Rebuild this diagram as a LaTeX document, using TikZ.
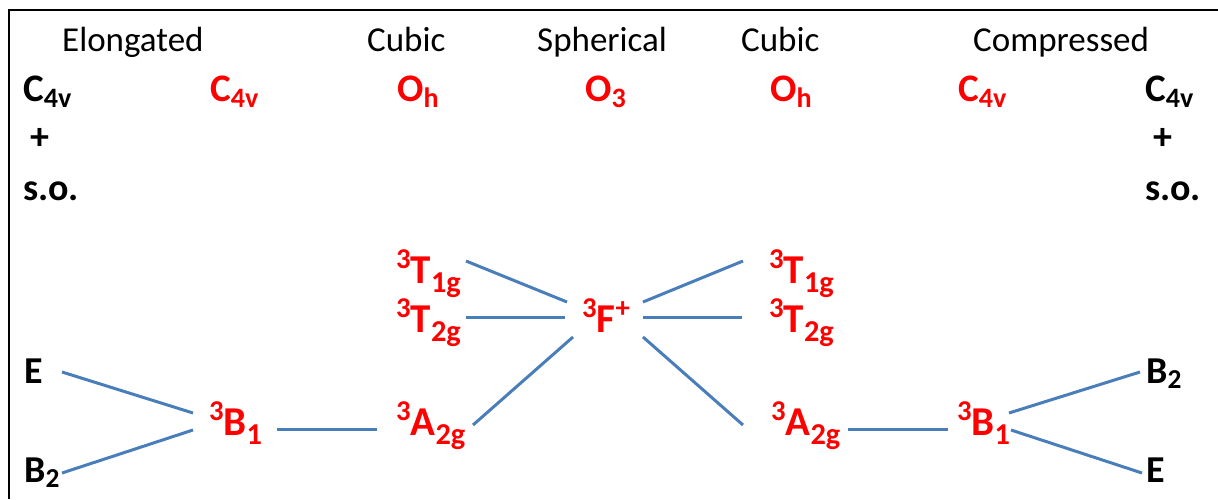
\documentclass[tikz,border=0pt]{standalone}
\usepackage{fontspec}
\setmainfont{Carlito}
\usepackage{xcolor}
\definecolor{corrblue}{RGB}{74,126,187}
\newcommand\levsup[1]{\raisebox{.36em}{\scalebox{.7}{#1}}}
\newcommand\levsub[1]{\raisebox{-.22em}{\scalebox{.74}{#1}}}
\newcommand\symsub[1]{\raisebox{-.15em}{\scalebox{.72}{#1}}}
\tikzset{
  hdr/.style={font=\fontsize{35}{40}\selectfont, anchor=base west, inner sep=0pt},
  sym/.style={font=\bfseries\fontsize{39}{44}\selectfont, anchor=base west, inner sep=0pt},
  blk/.style={font=\bfseries\fontsize{38}{42}\selectfont, anchor=base west, inner sep=0pt},
  lev/.style={font=\bfseries\fontsize{41}{46}\selectfont, text=red, anchor=base west, inner sep=0pt},
  corr/.style={draw=corrblue, line width=3pt}
}

\begin{document}
\begin{tikzpicture}[x=1pt,y=1pt]
\useasboundingbox (0,0) rectangle (1218,499);
% frame
\draw[line width=2pt] (9,0) -- (9,489) -- (1218,489);
% headings
\node[hdr] (hElong) at (62,447) {Elongated};
\node[hdr] (hCubL) at (367,447) {Cubic};
\node[hdr] (hSph) at (537,447) {Spherical};
\node[hdr] (hCubR) at (741,447) {Cubic};
\node[hdr] (hComp) at (973,447) {Compressed};
% symmetry row
\node[sym] (symL) at (23,397) {C\symsub{4v}};
\node[sym,text=red] (symCL) at (210,397) {C\symsub{4v}};
\node[sym,text=red] (symOL) at (397,397) {O\symsub{h}};
\node[sym,text=red] (symO3) at (585,397) {O\symsub{3}};
\node[sym,text=red] (symOR) at (770,397) {O\symsub{h}};
\node[sym,text=red] (symCR) at (958,397) {C\symsub{4v}};
\node[sym] (symR) at (1145,397) {C\symsub{4v}};
\node[blk,anchor=center] (plusL) at (40,360) {+};
\node[blk,anchor=center] (plusR) at (1163,360) {+};
\node[blk] (soL) at (23,299) {s.o.};
\node[blk] (soR) at (1145,299) {s.o.};
% left: elongated
\node[blk] (EL) at (24,116) {E};
\node[blk] (BL) at (24,17) {B\symsub{2}};
\node[lev] (B1L) at (209,64) {\levsup{3}B\levsub{1}};
\node[lev] (A2gL) at (396,64) {\levsup{3}A\levsub{2g}};
\node[lev] (T2gL) at (396,167) {\levsup{3}T\levsub{2g}};
\node[lev] (T1gL) at (396,216) {\levsup{3}T\levsub{1g}};
% free ion
\node[lev] (F) at (582,167) {\levsup{3}F\levsup{+}};
% right: compressed
\node[lev] (T1gR) at (769,216) {\levsup{3}T\levsub{1g}};
\node[lev] (T2gR) at (769,167) {\levsup{3}T\levsub{2g}};
\node[lev] (A2gR) at (771,64) {\levsup{3}A\levsub{2g}};
\node[lev] (B1R) at (957,64) {\levsup{3}B\levsub{1}};
\node[blk] (BR) at (1146,116) {B\symsub{2}};
\node[blk] (ER) at (1146,17) {E};
% correlation lines
\draw[corr] ([shift={(38,11)}]EL.base west) -- ([shift={(-16,22)}]B1L.base west);
\draw[corr] ([shift={(38,9)}]BL.base west) -- ([shift={(-16,5)}]B1L.base west);
\draw[corr] ([shift={(68,6)}]B1L.base west) -- ([shift={(-19,6)}]A2gL.base west);
\draw[corr] ([shift={(77,10)}]A2gL.base west) -- ([shift={(-9,-5)}]F.base west);
\draw[corr] ([shift={(70,15)}]T2gL.base west) -- ([shift={(-17,15)}]F.base west);
\draw[corr] ([shift={(70,22)}]T1gL.base west) -- ([shift={(-15,30)}]F.base west);
\draw[corr] ([shift={(61,30)}]F.base west) -- ([shift={(-26,22)}]T1gR.base west);
\draw[corr] ([shift={(61,15)}]F.base west) -- ([shift={(-27,15)}]T2gR.base west);
\draw[corr] ([shift={(61,-5)}]F.base west) -- ([shift={(-28,10)}]A2gR.base west);
\draw[corr] ([shift={(77,6)}]A2gR.base west) -- ([shift={(-9,6)}]B1R.base west);
\draw[corr] ([shift={(52,22)}]B1R.base west) -- ([shift={(-6,11)}]BR.base west);
\draw[corr] ([shift={(54,5)}]B1R.base west) -- ([shift={(-4,9)}]ER.base west);
\end{tikzpicture}
\end{document}
